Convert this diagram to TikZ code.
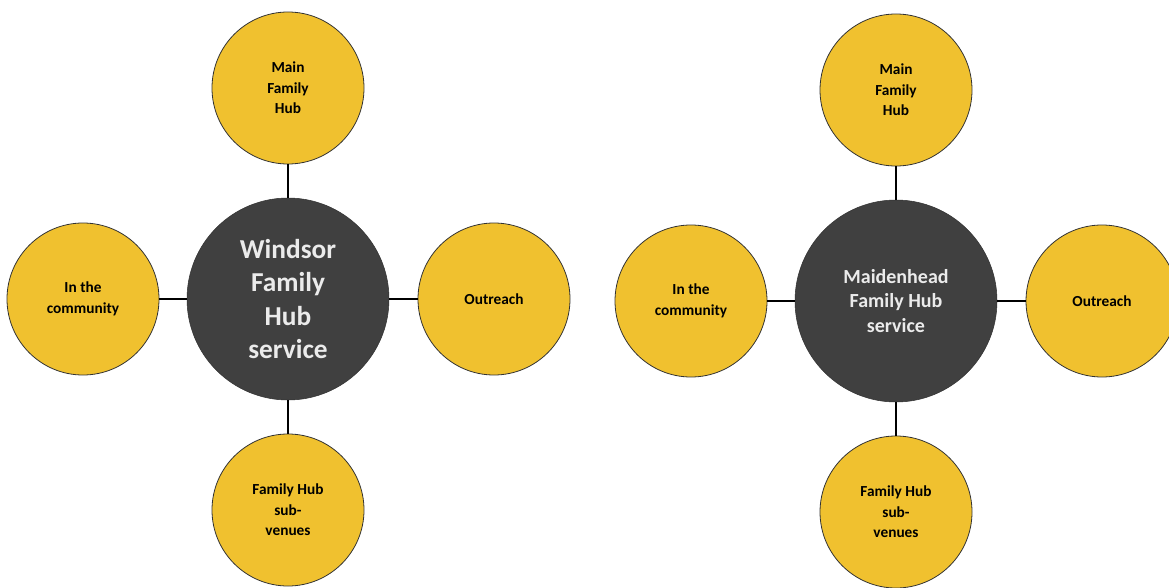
\documentclass[tikz,border=0pt]{standalone}
\usepackage{fontspec}
\setmainfont{Carlito}
\definecolor{hubgrey}{HTML}{404040}
\definecolor{hubyellow}{HTML}{F0C12F}
\definecolor{hubline}{HTML}{333333}
\tikzset{
    service/.style={circle,draw=hubline,fill=hubgrey,text=white!92!black,
        minimum size=202*0.75pt,inner sep=0pt,align=center,font=\bfseries},
    venue/.style={circle,draw=hubline,fill=hubyellow,text=black,line width=0.6pt,
        minimum size=152*0.75pt,inner sep=0pt,align=center,
        font=\fontsize{11.5}{15.5}\selectfont\bfseries},
    link/.style={draw=black,line width=0.8pt},
}
% one hub: prefix, centre x, centre y, hub font, hub label
\newcommand\HubCluster[5]{%
    \node[service,font=#4\bfseries] (#1Hub) at (#2,#3) {#5};
    \node[venue] (#1Main) at (#2,#3-211) {Main\\Family\\Hub};
    \node[venue] (#1Comm) at (#2-205,#3) {In the\\community};
    \node[venue] (#1Out) at (#2+206,#3) {Outreach};
    \node[venue] (#1Sub) at (#2,#3+211) {Family Hub\\sub-\\venues};
    \foreach \s in {Main,Comm,Out,Sub}
        \draw[link] (#1Hub) -- (#1\s);
}

\begin{document}
\begin{tikzpicture}[x=0.75pt,y=-0.75pt]
    \useasboundingbox (0,0) rectangle (1169,588);
    \HubCluster{W}{288}{299}{\fontsize{20.5}{24.8}\selectfont}{Windsor\\Family\\Hub\\service}
    \HubCluster{M}{896}{301}{\fontsize{15}{18.3}\selectfont}{Maidenhead\\Family Hub\\service}
\end{tikzpicture}
\end{document}
